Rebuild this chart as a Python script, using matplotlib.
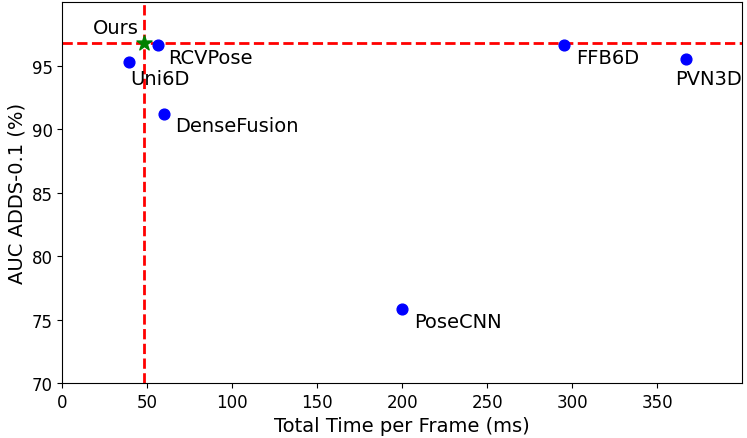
import numpy as np
import matplotlib.pyplot as plt


# dados

metodos = ["Uni6D", "RCVPose", "DenseFusion", "PoseCNN", "FFB6D", "PVN3D"]
tempos = [39, 56, 60, 200, 295, 367]
auc = [95.3, 96.6, 91.2, 75.8, 96.6, 95.5]

nosso_tempo = 48
nosso_auc = 96.8

# deslocamento dos rotulos em pixels
offsets = {
    "Uni6D": (2, -17, "left"),
    "RCVPose": (11, -12, "left"),
    "DenseFusion": (11, -12, "left"),
    "PoseCNN": (12, -12, "left"),
    "FFB6D": (12, -12, "left"),
    "PVN3D": (-11, -19, "left"),
}


fig = plt.figure(figsize=(7.47, 4.39), dpi=100)
ax = fig.add_axes([62.3 / 747, 55 / 439, 680 / 747, 381 / 439])

ax.scatter(tempos, auc, color="blue", s=60, zorder=3)

for nome, x, y in zip(metodos, tempos, auc):
    dx, dy, ha = offsets[nome]
    ax.annotate(nome, (x, y), xytext=(dx, dy), textcoords="offset pixels",
                ha=ha, va="center", fontsize=14)

ax.scatter([nosso_tempo], [nosso_auc], color="green", marker="*", s=130, zorder=4)
ax.annotate("Ours", (nosso_tempo, nosso_auc), xytext=(-5, 15),
            textcoords="offset pixels", ha="right", va="center", fontsize=14)

ax.axvline(nosso_tempo, color="red", linestyle="--", linewidth=2, zorder=2)
ax.axhline(nosso_auc, color="red", linestyle="--", linewidth=2, zorder=2)

ax.set_xlim(0, 400)
ax.set_ylim(70, 100)
ax.set_xticks(np.arange(0, 400, 50))
ax.set_yticks(np.arange(70, 100, 5))
ax.tick_params(labelsize=12)

ax.set_xlabel("Total Time per Frame (ms)", fontsize=14)
ax.set_ylabel("AUC ADDS-0.1 (%)", fontsize=14)

plt.savefig("out.png", dpi=100)
plt.close()
